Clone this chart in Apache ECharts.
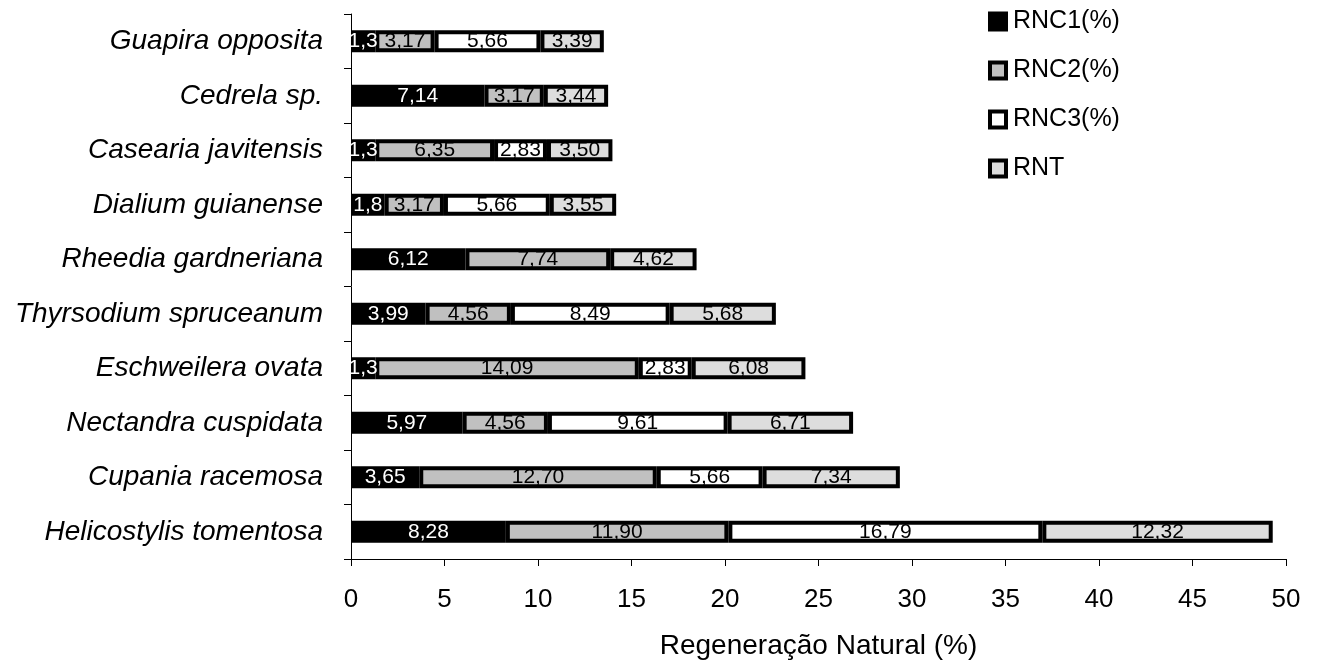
<!DOCTYPE html>
<html>
<head>
<meta charset="utf-8">
<script src="https://cdn.jsdelivr.net/npm/echarts@6/dist/echarts.min.js"></script>
<style>
html,body{margin:0;padding:0;background:#fff;}
#chart{width:1318px;height:661px;}
</style>
</head>
<body>
<div id="chart"></div>
<script>
const categories = ['Guapira opposita','Cedrela sp.','Casearia javitensis','Dialium guianense','Rheedia gardneriana','Thyrsodium spruceanum','Eschweilera ovata','Nectandra cuspidata','Cupania racemosa','Helicostylis tomentosa'];
const rnc1 = [1.3, 7.14, 1.3, 1.8, 6.12, 3.99, 1.3, 5.97, 3.65, 8.28];
const rnc2 = [3.17, 3.17, 6.35, 3.17, 7.74, 4.56, 14.09, 4.56, 12.70, 11.90];
const rnc3 = [5.66, null, 2.83, 5.66, null, 8.49, 2.83, 9.61, 5.66, 16.79];
const rnt  = [3.39, 3.44, 3.50, 3.55, 4.62, 5.68, 6.08, 6.71, 7.34, 12.32];
const xTicks = [0,5,10,15,20,25,30,35,40,45,50];

const FONT = '"Liberation Sans", Arial, sans-serif';
const comma = s => s.replace('.', ',');
function mk(name, data, color, textColor, fmt) {
  return {
    name, type: 'bar', stack: 'total', data, barWidth: 22,
    itemStyle: { color, borderColor: '#000', borderWidth: 4 },
    label: {
      show: true, position: 'inside', color: textColor,
      fontFamily: FONT, fontSize: 21,
      formatter: p => p.value == null ? '' : comma(fmt(p.value))
    }
  };
}
const chart = echarts.init(document.getElementById('chart'), null, {renderer: 'canvas'});
chart.setOption({
  animation: false,
  backgroundColor: '#fff',
  grid: { left: 351, right: 32, top: 14, bottom: 102, containLabel: false, outerBoundsMode: 'none' },
  legend: {
    orient: 'vertical', left: 983, top: 4, itemGap: 24,
    itemWidth: 16, itemHeight: 16, icon: 'rect',
    textStyle: { fontFamily: FONT, fontSize: 25, color: '#000', padding: [0,0,0,2] },
    itemStyle: { borderColor: '#000', borderWidth: 4 },
    data: ['RNC1(%)','RNC2(%)','RNC3(%)','RNT']
  },
  xAxis: {
    type: 'value', min: 0, max: 50, interval: 5,
    splitLine: { show: false },
    axisLine: { show: true, lineStyle: { color: '#000', width: 1 } },
    axisTick: { show: true, length: 7, lineStyle: { color: '#000' } },
    axisLabel: { fontFamily: FONT, fontSize: 26, color: '#000', margin: 28,
      formatter: v => xTicks.includes(v) ? String(v) : '' },
    name: 'Regeneração Natural (%)', nameLocation: 'middle', nameGap: 73,
    nameTextStyle: { fontFamily: FONT, fontSize: 28, color: '#000' }
  },
  yAxis: {
    type: 'category', data: categories, inverse: true,
    axisLine: { show: true, lineStyle: { color: '#000', width: 1 } },
    axisTick: { show: true, length: 7, lineStyle: { color: '#000' } },
    axisLabel: { fontFamily: FONT, fontSize: 28, fontStyle: 'italic', color: '#000', margin: 28 }
  },
  series: [
    mk('RNC1(%)', rnc1, '#000000', '#fff', v => String(v)),
    mk('RNC2(%)', rnc2, '#c0c0c0', '#000', v => v.toFixed(2)),
    mk('RNC3(%)', rnc3, '#ffffff', '#000', v => v.toFixed(2)),
    mk('RNT', rnt, '#dddddd', '#000', v => v.toFixed(2))
  ]
});
</script>
</body>
</html>
